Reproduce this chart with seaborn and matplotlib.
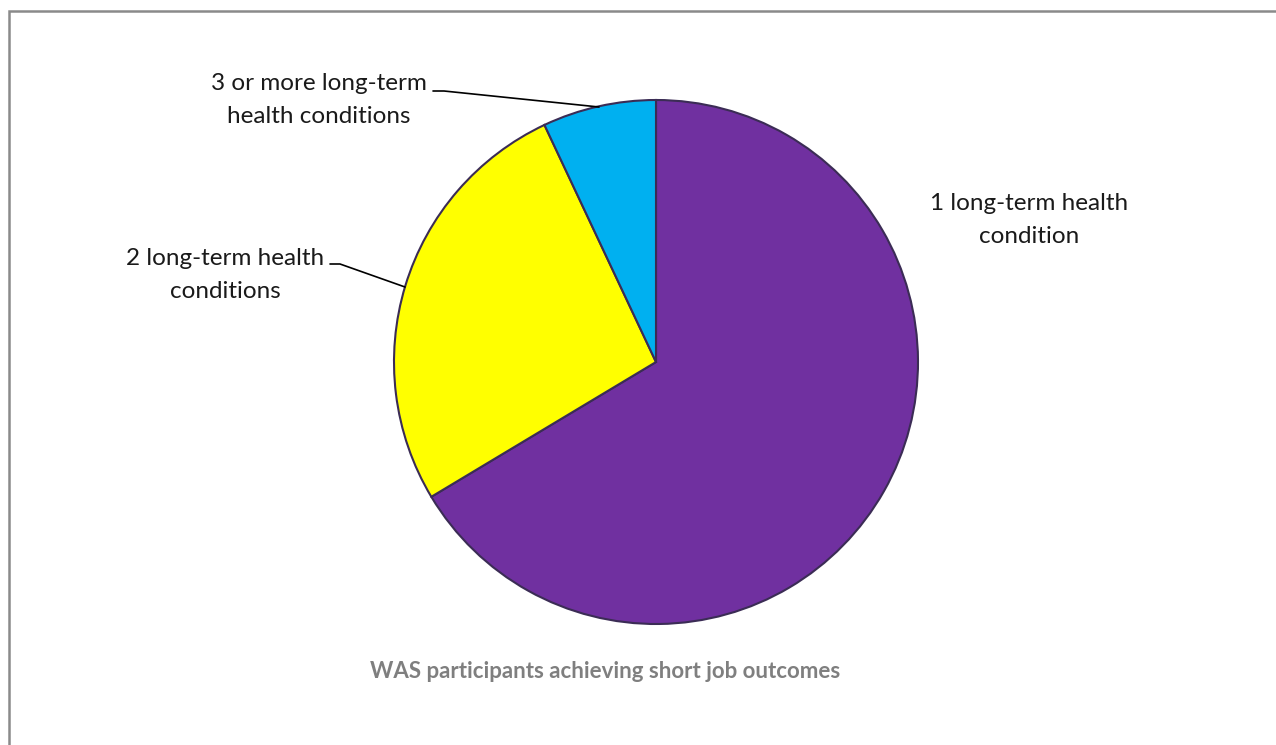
import matplotlib
matplotlib.use("Agg")
import matplotlib.pyplot as plt
import seaborn as sns
from matplotlib.patches import Rectangle

# Share of participants by number of long-term health conditions (%)
categories = ["1 long-term health\ncondition",
              "2 long-term health\nconditions",
              "3 or more long-term\nhealth conditions"]
shares = [66.4, 26.6, 7.0]
colors = ["#7030A0", "#FFFF00", "#00B0F0"]
title = "WAS participants achieving short job outcomes"

sns.set_theme(style="white")
plt.rcParams["font.family"] = ["Lato", "DejaVu Sans"]

W, H = 1276, 745
fig = plt.figure(figsize=(W / 100, H / 100), dpi=100)
ax = fig.add_axes([0, 0, 1, 1])

# pie laid out in pixel units (y measured from bottom)
cx, cy, r = 656, H - 362, 262
wedges, _ = ax.pie(shares, colors=colors, startangle=90, counterclock=False,
                   center=(cx, cy), radius=r,
                   wedgeprops=dict(edgecolor="#3b2c55", linewidth=1.5))
ax.set_xlim(0, W)
ax.set_ylim(0, H)
ax.set_aspect("equal")
ax.axis("off")

txt = dict(fontsize=17.5, color="#1a1a1a", ha="center", va="center",
           linespacing=1.65)
ax.text(1029, H - 220, categories[0], **txt)
ax.text(225, H - 275, categories[1], **txt)
ax.text(319, H - 100, categories[2], **txt)

# leader lines
ax.plot([330, 340, 405], [H - 264, H - 264, H - 287], color="black", lw=1.2)
ax.plot([433, 444, 599], [H - 91, H - 91, H - 107], color="black", lw=1.2)

ax.text(605, H - 672, title, fontsize=16, fontweight="bold", color="#7f7f7f",
        ha="center", va="center")

# chart area border
fig.patches.append(Rectangle((8.5 / W, -0.1), 1.2, (H - 10.5) / H + 0.1,
                             transform=fig.transFigure, fill=False,
                             edgecolor="#8a8a8a", linewidth=1.8))

fig.savefig("out.png", dpi=100)
